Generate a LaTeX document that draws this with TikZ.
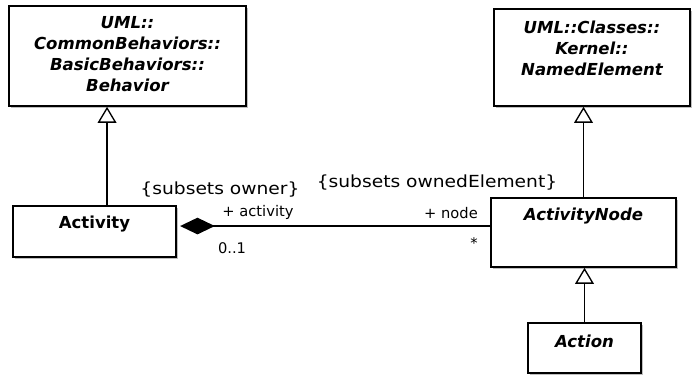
\documentclass[tikz,border=0pt]{standalone}
\usepackage{fontspec}
\setmainfont{DejaVu Sans}
\newfontfamily\constrfont{DejaVu Sans}[FakeStretch=1.12]
\usepackage{tikz}
\usetikzlibrary{arrows.meta,positioning,calc,shadows}

\begin{document}
\begin{tikzpicture}[x=0.75pt, y=-0.75pt,
  umlclass/.style={rectangle, draw=black, line width=1.2pt, fill=white, inner sep=0pt,
    drop shadow={shadow xshift=1.6pt, shadow yshift=-1.6pt, opacity=0.5}},
  classname/.style={anchor=north, inner sep=0pt, align=center,
    font=\fontsize{12.4}{15.75}\selectfont\bfseries\itshape},
  rolename/.style={inner sep=0pt, font=\fontsize{11}{13}\selectfont},
  constraint/.style={inner sep=0pt, font=\constrfont\fontsize{12.5}{14}\selectfont},
  generalization/.style={-{Triangle[open, length=12pt, width=14pt, fill=white]}, line width=1pt},
  composition/.style={{Diamond[length=26pt, width=12.5pt]}-, line width=1pt, shorten <=2.5pt}
]
\useasboundingbox (0,0) rectangle (695,375);

% classes
\node[umlclass, minimum width=177.75pt, minimum height=75pt,
  label={[classname, yshift=-8pt]north:UML::\\CommonBehaviors::\\BasicBehaviors::\\Behavior}] (behavior) at (127.5,56) {};
\node[umlclass, minimum width=147pt, minimum height=72.75pt,
  label={[classname, yshift=-9.5pt]north:UML::Classes::\\Kernel::\\NamedElement}] (namedelement) at (592,57.5) {};
\node[umlclass, minimum width=122.25pt, minimum height=38.25pt,
  label={[classname, yshift=-8pt]north:\upshape Activity}] (activity) at (94.5,231.5) {};
\node[umlclass, minimum width=138.75pt, minimum height=51.75pt,
  label={[classname, yshift=-8pt]north:ActivityNode}] (activitynode) at (583.5,232.5) {};
\node[umlclass, minimum width=84.75pt, minimum height=37.5pt,
  label={[classname, yshift=-9.5pt]north:Action}] (action) at (584.5,348) {};

% connectors
\draw[generalization] ([xshift=9.4pt]activity.north) -- ([xshift=9.4pt]activity.north |- behavior.south);
\draw[generalization] (activitynode.north) -- (activitynode.north |- namedelement.south);
\draw[generalization] (action.north) -- (action.north |- activitynode.south);
\draw[composition] ([yshift=4.1pt]activity.east) -- ([yshift=4.1pt]activity.east -| activitynode.west);

% association labels
\node[constraint] (ownerc) at (220,190) {\{subsets owner\}};
\node[constraint] (ownedc) at (437,183) {\{subsets ownedElement\}};
\node[rolename] (activityrole) at (258,212) {+ activity};
\node[rolename] (activitymult) at (232,248) {0..1};
\node[rolename] (noderole) at (451,213) {+ node};
\node[rolename] (nodemult) at (474,243) {*};
\end{tikzpicture}
\end{document}
